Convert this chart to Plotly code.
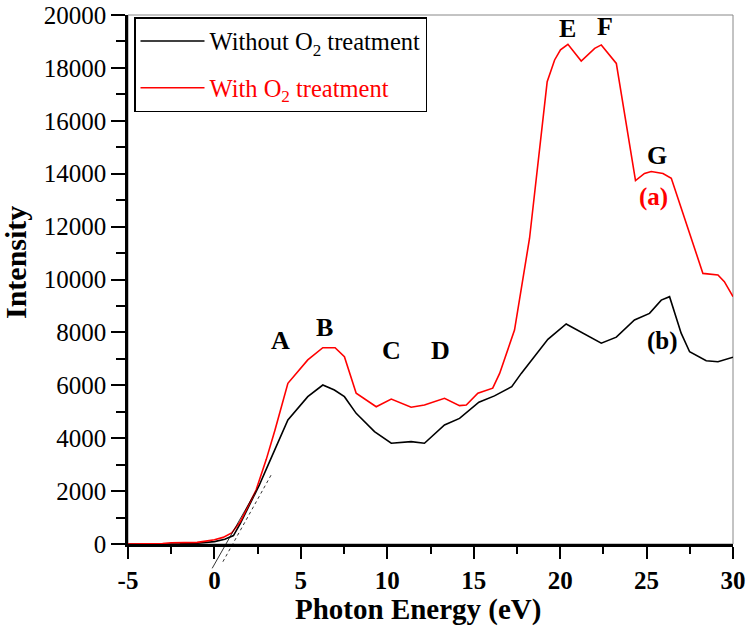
import plotly.graph_objects as go

# ---- data ----
energy_without = [-5, -3, -2, -1, 0, 0.6, 1.1, 1.5, 2.0, 2.6, 3.0, 3.5, 4.25, 5.4, 6.27, 6.94,
                  7.52, 8.2, 9.26, 10.23, 11.38, 12.15, 13.31, 14.18, 15.3, 16.2, 17.2, 17.75,
                  19.29, 20.35, 21.32, 22.38, 23.25, 24.3, 25.17, 25.85, 26.33, 27.0, 27.49,
                  28.45, 29.13, 30]
intensity_without = [0, 0, 10, 30, 90, 180, 320, 780, 1430, 2230, 2830, 3600, 4690, 5570, 6010, 5820,
                     5570, 4940, 4250, 3810, 3870, 3810, 4500, 4750, 5360, 5600, 5950, 6450,
                     7740, 8320, 7970, 7590, 7820, 8470, 8720, 9220, 9350, 7970, 7270,
                     6930, 6890, 7060]

energy_with = [-5, -4, -3, -2.5, -2, -1, -0.5, 0, 0.5, 1.0, 1.5, 2.0, 2.41, 3.0, 3.5, 4.25, 5.4,
               6.27, 6.98, 7.52, 8.2, 9.36, 10.23, 11.38, 12.15, 13.31, 14.18, 14.57, 15.24,
               16.1, 16.5, 17.36, 18.23, 19.25, 19.68, 20.02, 20.45, 21.22, 22.0, 22.38, 22.77,
               23.25, 24.36, 24.88, 25.27, 25.95, 26.43, 28.26, 29.13, 29.5, 30]
intensity_with = [0, 0, 20, 50, 50, 60, 110, 160, 250, 420, 850, 1500, 2040, 3200, 4300, 6075, 6960,
                  7420, 7420, 7080, 5700, 5190, 5480, 5170, 5255, 5510, 5230, 5255, 5700,
                  5890, 6450, 8090, 11560, 17480, 18300, 18680, 18890, 18260, 18740, 18870, 18550,
                  18170, 13740, 14010, 14080, 14010, 13830, 10230, 10170, 9920, 9350]

# tangent (band-edge extrapolation) lines
tangent_solid_x = [-0.13, 2.6]
tangent_solid_y = [-920, 2230]
tangent_dot_x = [0.49, 3.28]
tangent_dot_y = [-670, 2610]

peak_labels = ["A", "B", "C", "D", "E", "F", "G"]
peak_x = [3.8, 6.35, 10.23, 13.1, 20.45, 22.6, 25.6]
peak_y = [7710, 8170, 7330, 7330, 19500, 19580, 14670]

curve_labels = ["(a)", "(b)"]
curve_label_x = [25.4, 25.9]
curve_label_y = [13120, 7670]
curve_label_colors = ["red", "black"]

x_ticks = [-5, 0, 5, 10, 15, 20, 25, 30]
x_tick_text = ["-5", "0", "5", "10", "15", "20", "25", "30"]
y_ticks = list(range(0, 20001, 2000))
y_tick_text = [str(v) for v in y_ticks]

# ---- layout geometry ----
FONT = "Liberation Serif, Times New Roman, serif"
mt, mb, ml, mr = 15, 56, 128, 17
H, W = 630, 750
plot_h = H - mt - mb
plot_w = W - ml - mr
d = 30 / plot_h  # main axis domain start (axis line at pixel 544)
y2_lo = -20000 * d / (1 - d)

fig = go.Figure()

fig.add_trace(go.Scatter(
    x=energy_without, y=intensity_without, mode="lines",
    line=dict(color="black", width=1.6),
    name="Without O<sub>2</sub> treatment", legendgroup="g1",
))
fig.add_trace(go.Scatter(
    x=energy_with, y=intensity_with, mode="lines",
    line=dict(color="red", width=1.6),
    name="<span style='color:red'>With O<sub>2</sub> treatment</span>", legendgroup="g2",
))

# tangent lines on an invisible overlay subplot that extends below the x axis
fig.add_trace(go.Scatter(
    x=tangent_solid_x, y=tangent_solid_y, mode="lines", xaxis="x2", yaxis="y2",
    line=dict(color="black", width=0.8), showlegend=False, hoverinfo="skip",
))
fig.add_trace(go.Scatter(
    x=tangent_dot_x, y=tangent_dot_y, mode="lines", xaxis="x2", yaxis="y2",
    line=dict(color="black", width=0.8, dash="dot"), showlegend=False, hoverinfo="skip",
))

annotations = []
for t, x, y in zip(peak_labels, peak_x, peak_y):
    annotations.append(dict(x=x, y=y, xref="x", yref="y", text=f"<b>{t}</b>", showarrow=False,
                            font=dict(family=FONT, size=26, color="black")))
for t, x, y, c in zip(curve_labels, curve_label_x, curve_label_y, curve_label_colors):
    annotations.append(dict(x=x, y=y, xref="x", yref="y", text=f"<b>{t}</b>", showarrow=False,
                            font=dict(family=FONT, size=25, color=c)))

# axis titles
annotations.append(dict(text="<b>Photon Energy (eV)</b>", xref="paper", yref="paper",
                        x=(418 - ml) / plot_w, y=(H - mb - 609) / plot_h,
                        xanchor="center", yanchor="middle", showarrow=False,
                        font=dict(family=FONT, size=29, color="black")))
annotations.append(dict(text="<b>Intensity</b>", xref="paper", yref="paper",
                        x=(15 - ml) / plot_w, y=(H - mb - 263) / plot_h,
                        xanchor="center", yanchor="middle", showarrow=False, textangle=-90,
                        font=dict(family=FONT, size=30, color="black")))

fig.update_layout(
    template="none",
    width=W, height=H,
    margin=dict(l=ml, r=mr, t=mt, b=mb, autoexpand=False),
    paper_bgcolor="white", plot_bgcolor="rgba(0,0,0,0)",
    font=dict(family=FONT, color="black"),
    xaxis=dict(
        range=[-5, 30], tickvals=x_ticks, ticktext=[f"<b>{t}</b>" for t in x_tick_text],
        ticks="outside", ticklen=12, tickwidth=2,
        tickcolor="black", showline=True, linecolor="black", linewidth=2.5,
        showgrid=False, zeroline=False, anchor="y", automargin=False,
        tickfont=dict(family=FONT, size=25, color="black"),
        minor=dict(dtick=2.5, tick0=-5, ticks="outside", ticklen=7, tickwidth=2,
                   tickcolor="black", showgrid=False),
    ),
    yaxis=dict(
        domain=[d, 1], range=[0, 20000], tickvals=y_ticks, ticktext=y_tick_text,
        ticks="outside", ticklen=14,
        tickwidth=2, tickcolor="black", showline=True, linecolor="black", linewidth=2.5,
        showgrid=False, zeroline=False, anchor="x", automargin=False,
        tickfont=dict(family=FONT, size=25, color="black"),
        minor=dict(dtick=1000, tick0=0, ticks="outside", ticklen=9, tickwidth=2,
                   tickcolor="black", showgrid=False),
    ),
    xaxis2=dict(range=[-5, 30], visible=False, anchor="y2", domain=[0, 1], automargin=False),
    yaxis2=dict(range=[y2_lo, 20000], visible=False, anchor="x2", domain=[0, 1], automargin=False),
    legend=dict(
        x=(134 - ml) / plot_w, y=(H - mb - 17) / plot_h, xanchor="left", yanchor="top",
        bordercolor="black", borderwidth=1.5, bgcolor="white",
        font=dict(family=FONT, size=24.5, color="black"),
        itemwidth=64, tracegroupgap=12, traceorder="grouped",
    ),
    shapes=[dict(type="rect", xref="paper", yref="paper", x0=0, x1=1, y0=d, y1=1,
                 line=dict(color="#888888", width=1), layer="below")],
    annotations=annotations,
    showlegend=True,
)

fig.write_html(
    "out.html",
    config={"displayModeBar": False},
    post_script="document.body.style.margin='0';document.body.style.overflow='hidden';",
)
